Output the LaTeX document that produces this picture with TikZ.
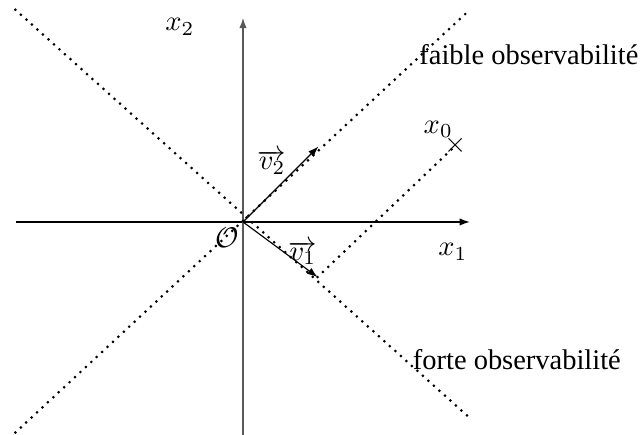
\documentclass[tikz,border=0pt]{standalone}
\usepackage{fontspec}
\setmainfont{Liberation Serif}
\usetikzlibrary{arrows.meta}

\begin{document}
\begin{tikzpicture}[
      axis/.style={-{Latex[length=3.6pt, width=2.6pt]}, line width=0.5pt},
      vec/.style={-{Latex[length=3.6pt, width=2.6pt]}, line width=0.4pt},
      dotline/.style={line width=1.05pt, dash pattern=on 0pt off 2.6pt, line cap=round},
      lab/.style={inner sep=0pt, font=\normalsize},
  ]
  \useasboundingbox (-3.0,-2.62) rectangle (4.95,2.74);

  % Points
  \coordinate (O) at (0,0);
  \coordinate (v1tip) at (0.92,-0.68);
  \coordinate (v2tip) at (0.93,0.93);
  \coordinate (x0) at (2.62,0.94);

  % Axes
  \coordinate (xstart) at (-2.8,0);
  \coordinate (xend) at (2.8,0);
  \coordinate (ystart) at (0,-2.7);
  \coordinate (yend) at (0,2.52);
  \draw[axis] (xstart) -- (xend);
  \draw[axis, black!65] (ystart) -- (yend);

  % Observability lines
  \coordinate (a1) at (-2.81,2.62);
  \coordinate (a2) at (2.80,-2.42);
  \coordinate (b1) at (-2.81,-2.60);
  \coordinate (b2) at (2.80,2.62);
  \draw[dotline] (a1) -- (a2);
  \draw[dotline] (b1) -- (b2);
  \draw[dotline] (v1tip) -- (x0);

  % Vectors
  \draw[vec] (O) -- (v1tip);
  \draw[vec] (O) -- (v2tip);

  % Initial point
  \node[lab] (x0mark) at (x0) {$\times$};

  % Labels
  \node[lab] (origin) at (-0.2,-0.2) {$\mathcal{O}$};
  \node[lab] (x1lab) at (2.59,-0.37) {$x_1$};
  \node[lab] (x2lab) at (-0.78,2.41) {$x_2$};
  \node[lab] (x0lab) at (2.41,1.14) {$x_0$};
  \node[lab] (v1lab) at (0.74,-0.38) {$\overrightarrow{v_1}$};
  \node[lab] (v2lab) at (0.36,0.74) {$\overrightarrow{v_2}$};
  \node[lab, anchor=west] (faible) at (2.17,2.06) {faible observabilité};
  \node[lab, anchor=west] (forte) at (2.09,-1.70) {forte observabilité};

\end{tikzpicture}
\end{document}
